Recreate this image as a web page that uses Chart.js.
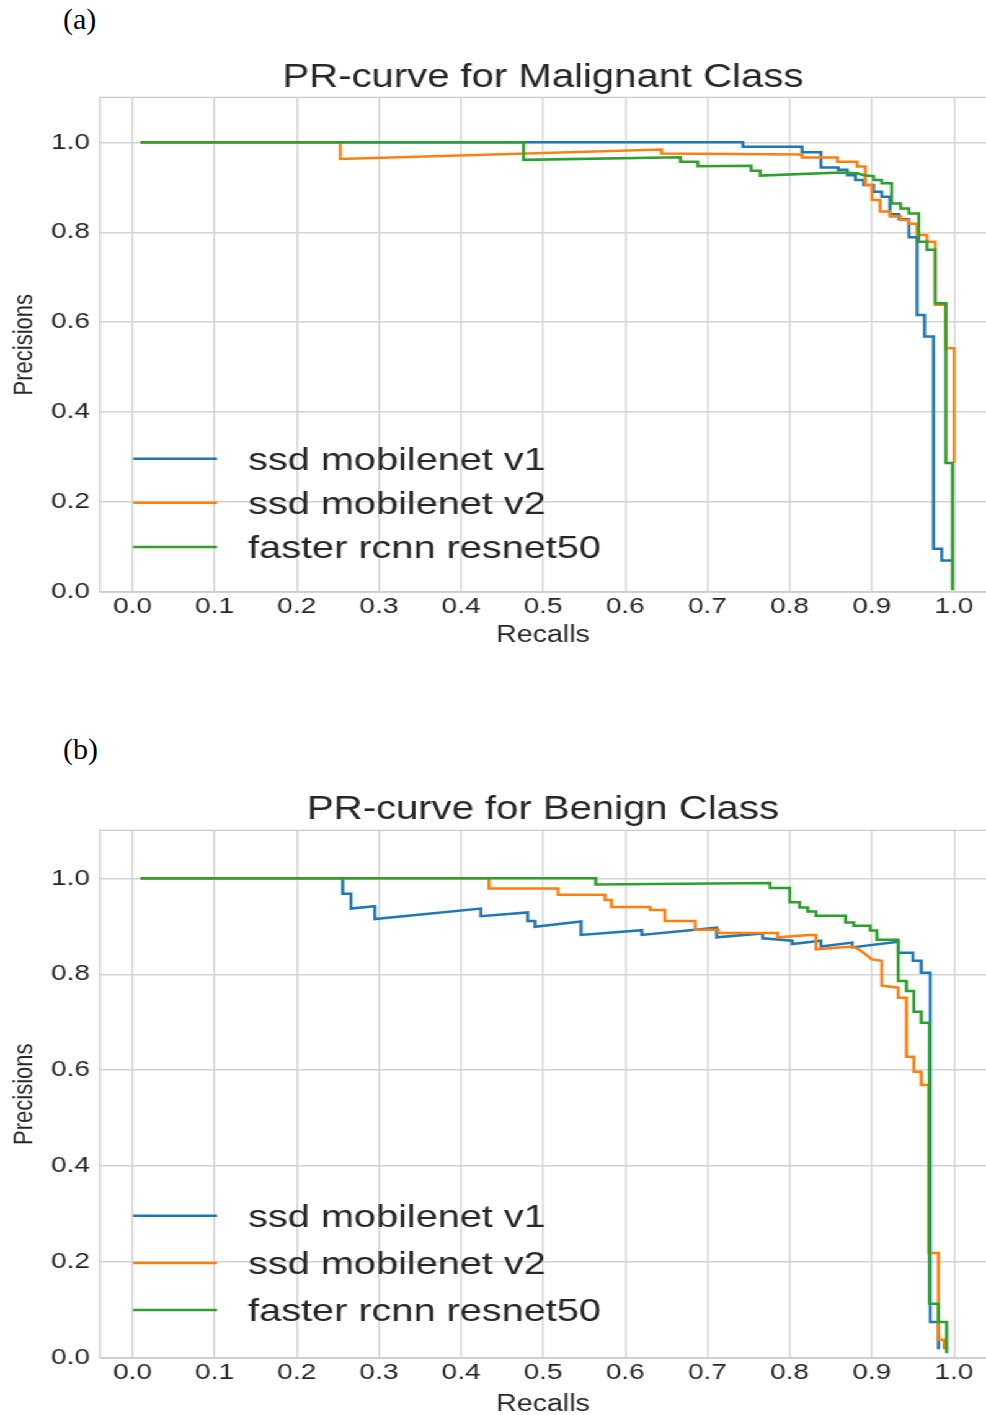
<!DOCTYPE html>
<html>
<head>
<meta charset="utf-8">
<script src="https://cdn.jsdelivr.net/npm/chart.js@4.4.0/dist/chart.umd.min.js"></script>
<style>
  html, body { margin: 0; padding: 0; background: #fff; }
  body { width: 986px; height: 1415px; position: relative; overflow: hidden; }
  .panel-label { position: absolute; left: 63px; font: 30px "Liberation Serif", "Times New Roman", serif; line-height: 30px; color: #000; }
  /* the source figure is stretched sideways, so the charts are drawn narrow and widened */
  #stretch { position: absolute; left: 0; top: 0; width: 795px; transform: scaleX(1.2403); transform-origin: 0 0; }
  #stretch canvas { display: block; }
</style>
</head>
<body>
<div class="panel-label" style="top:4px">(a)</div>
<div class="panel-label" style="top:734px">(b)</div>
<div id="stretch">
  <canvas id="malignantChart" width="795" height="700"></canvas>
  <canvas id="benignChart" width="795" height="715"></canvas>
</div>
<script>
const seriesNames = ["ssd mobilenet v1", "ssd mobilenet v2", "faster rcnn resnet50"];
const seriesColors = ["#1f77b4", "#ff7f0e", "#2ca02c"];
const recallTicks = [0.0, 0.1, 0.2, 0.3, 0.4, 0.5, 0.6, 0.7, 0.8, 0.9, 1.0];
const precisionTicks = [0.0, 0.2, 0.4, 0.6, 0.8, 1.0];

// (a) Malignant class
const malV1Recall = [0.01, 0.743, 0.743, 0.815, 0.815, 0.838, 0.838, 0.859, 0.859, 0.870, 0.870, 0.880, 0.880, 0.890, 0.890, 0.902, 0.902, 0.912, 0.912, 0.922, 0.922, 0.933, 0.933, 0.945, 0.945, 0.955, 0.955, 0.964, 0.964, 0.975, 0.975, 0.985, 0.985, 0.998];
const malV1Precision = [1.0, 1.0, 0.990, 0.990, 0.978, 0.978, 0.944, 0.944, 0.939, 0.939, 0.927, 0.927, 0.916, 0.916, 0.905, 0.905, 0.890, 0.890, 0.879, 0.879, 0.840, 0.840, 0.829, 0.829, 0.789, 0.789, 0.616, 0.616, 0.568, 0.568, 0.096, 0.096, 0.070, 0.070];
const malV2Recall = [0.01, 0.253, 0.253, 0.644, 0.644, 0.815, 0.815, 0.858, 0.858, 0.882, 0.882, 0.892, 0.892, 0.900, 0.900, 0.910, 0.910, 0.922, 0.922, 0.935, 0.935, 0.945, 0.945, 0.955, 0.955, 0.967, 0.967, 0.977, 0.977, 0.990, 0.990, 1.0, 1.0];
const malV2Precision = [1.0, 1.0, 0.963, 0.984, 0.975, 0.973, 0.966, 0.966, 0.957, 0.957, 0.946, 0.946, 0.905, 0.905, 0.872, 0.872, 0.846, 0.846, 0.835, 0.835, 0.827, 0.827, 0.819, 0.819, 0.794, 0.794, 0.779, 0.779, 0.639, 0.639, 0.542, 0.542, 0.287];
const malRcnnRecall = [0.01, 0.476, 0.476, 0.667, 0.667, 0.688, 0.688, 0.753, 0.753, 0.764, 0.764, 0.862, 0.882, 0.890, 0.902, 0.902, 0.912, 0.912, 0.924, 0.924, 0.935, 0.935, 0.945, 0.945, 0.957, 0.957, 0.967, 0.967, 0.977, 0.977, 0.990, 0.990, 0.998, 0.998];
const malRcnnPrecision = [1.0, 1.0, 0.961, 0.967, 0.957, 0.957, 0.947, 0.948, 0.937, 0.937, 0.926, 0.933, 0.931, 0.927, 0.925, 0.916, 0.916, 0.909, 0.909, 0.864, 0.864, 0.853, 0.853, 0.842, 0.842, 0.779, 0.779, 0.761, 0.761, 0.642, 0.642, 0.287, 0.287, 0.004];

// (b) Benign class
const benV1Recall = [0.01, 0.256, 0.256, 0.266, 0.266, 0.295, 0.295, 0.424, 0.424, 0.481, 0.481, 0.490, 0.490, 0.546, 0.546, 0.620, 0.620, 0.711, 0.711, 0.767, 0.767, 0.803, 0.803, 0.838, 0.838, 0.876, 0.876, 0.932, 0.932, 0.950, 0.950, 0.960, 0.960, 0.971, 0.971, 0.981, 0.981];
const benV1Precision = [1.0, 1.0, 0.968, 0.968, 0.937, 0.942, 0.915, 0.937, 0.921, 0.929, 0.911, 0.911, 0.899, 0.910, 0.882, 0.892, 0.882, 0.897, 0.877, 0.885, 0.875, 0.870, 0.863, 0.870, 0.858, 0.866, 0.856, 0.868, 0.845, 0.845, 0.828, 0.828, 0.803, 0.803, 0.075, 0.075, 0.018];
const benV2Recall = [0.01, 0.434, 0.434, 0.518, 0.518, 0.575, 0.575, 0.583, 0.583, 0.630, 0.630, 0.648, 0.648, 0.685, 0.685, 0.713, 0.713, 0.785, 0.785, 0.824, 0.832, 0.832, 0.876, 0.884, 0.892, 0.900, 0.912, 0.912, 0.932, 0.932, 0.942, 0.942, 0.951, 0.951, 0.960, 0.960, 0.969, 0.969, 0.981, 0.981, 0.988, 0.988];
const benV2Precision = [1.0, 1.0, 0.979, 0.979, 0.966, 0.966, 0.955, 0.955, 0.940, 0.940, 0.934, 0.934, 0.911, 0.911, 0.893, 0.893, 0.886, 0.886, 0.877, 0.882, 0.882, 0.852, 0.858, 0.852, 0.842, 0.831, 0.828, 0.776, 0.772, 0.751, 0.751, 0.628, 0.628, 0.597, 0.597, 0.569, 0.569, 0.219, 0.219, 0.038, 0.038, 0.018];
const benRcnnRecall = [0.01, 0.564, 0.564, 0.776, 0.776, 0.800, 0.800, 0.812, 0.812, 0.822, 0.822, 0.832, 0.832, 0.868, 0.868, 0.878, 0.878, 0.898, 0.898, 0.906, 0.906, 0.932, 0.932, 0.942, 0.942, 0.951, 0.951, 0.960, 0.960, 0.970, 0.970, 0.981, 0.981, 0.991, 0.991];
const benRcnnPrecision = [1.0, 1.0, 0.987, 0.990, 0.980, 0.980, 0.950, 0.950, 0.939, 0.939, 0.931, 0.931, 0.922, 0.922, 0.908, 0.908, 0.901, 0.901, 0.891, 0.891, 0.872, 0.872, 0.786, 0.786, 0.765, 0.765, 0.722, 0.722, 0.699, 0.699, 0.113, 0.113, 0.075, 0.075, 0.010];

const textColor = "#262626";
const gridColor = "#d4d4d4";
const fontFamily = '"Liberation Sans", Arial, sans-serif';

// light grey frame round the plot area (no right edge, it falls outside the picture)
const axesFrame = {
    id: "axesFrame",
    beforeDatasetsDraw(chart) {
        const { ctx, chartArea: a } = chart;
        ctx.save();
        ctx.strokeStyle = "#cccccc";
        ctx.lineWidth = 1.4;
        ctx.beginPath();
        ctx.moveTo(a.right, a.top);
        ctx.lineTo(a.left, a.top);
        ctx.lineTo(a.left, a.bottom);
        ctx.lineTo(a.right, a.bottom);
        ctx.stroke();
        ctx.restore();
    },
};

// legend drawn inside the plot, lower left, without a box
const insideLegend = {
    id: "insideLegend",
    afterDatasetsDraw(chart, args, opts) {
        const { ctx, chartArea } = chart;
        const h = chartArea.bottom - chartArea.top;
        const n = chart.data.datasets.length;
        ctx.save();
        ctx.font = opts.fontSize + "px " + fontFamily;
        ctx.textBaseline = "middle";
        ctx.textAlign = "left";
        chart.data.datasets.forEach((ds, i) => {
            const y = chartArea.bottom - h * (opts.bottomFrac + (n - 1 - i) * opts.rowFrac);
            const x0 = chartArea.left + opts.lineStart;
            ctx.strokeStyle = ds.borderColor;
            ctx.lineWidth = ds.borderWidth;
            ctx.beginPath();
            ctx.moveTo(x0, y);
            ctx.lineTo(x0 + opts.lineLength, y);
            ctx.stroke();
            ctx.fillStyle = textColor;
            ctx.fillText(ds.label, chartArea.left + opts.textStart, y + 2);
        });
        ctx.restore();
    },
};

const makePrChart = (canvasId, titleText, recalls, precisions, layout) => {
    const datasets = seriesNames.map((name, i) => ({
        label: name,
        data: recalls[i].map((r, j) => ({ x: r, y: precisions[i][j] })),
        borderColor: seriesColors[i],
        backgroundColor: seriesColors[i],
        borderWidth: 2.5,
        showLine: true,
        pointRadius: 0,
        tension: 0,
        fill: false,
        clip: 4,
        order: seriesNames.length - i, // later series on top, like matplotlib
    }));

    return new Chart(document.getElementById(canvasId), {
        type: "scatter",
        data: { datasets },
        options: {
            responsive: false,
            animation: false,
            devicePixelRatio: 1,
            layout: { padding: { left: 0, right: 0, top: 0, bottom: layout.padBottom } },
            plugins: {
                legend: { display: false },
                tooltip: { enabled: false },
                title: {
                    display: true,
                    text: titleText,
                    fullSize: false,
                    color: textColor,
                    font: { family: fontFamily, size: 32.3, weight: "normal", lineHeight: 1.2 },
                    padding: { top: layout.titleTop, bottom: layout.titleBottom },
                },
                insideLegend: {
                    fontSize: 32,
                    bottomFrac: 0.0909,
                    rowFrac: 0.0893,
                    lineStart: 26.7,
                    lineLength: 67.7,
                    textStart: 119.4,
                },
            },
            scales: {
                x: {
                    type: "linear",
                    min: -0.0395,
                    max: 1.0389,
                    afterBuildTicks: (scale) => { scale.ticks = recallTicks.map((v) => ({ value: v })); },
                    afterFit: (scale) => { scale.height = layout.xAxisHeight; },
                    grid: { color: gridColor, lineWidth: 1.4, drawTicks: false },
                    border: { display: false },
                    ticks: {
                        padding: 1,
                        color: textColor,
                        autoSkip: false,
                        maxRotation: 0,
                        font: { family: fontFamily, size: 22.5, lineHeight: 1.2 },
                        callback: (v) => Number(v).toFixed(1),
                    },
                    title: {
                        display: true,
                        text: "Recalls",
                        color: textColor,
                        font: { family: fontFamily, size: 23, lineHeight: 1.2 },
                        padding: { top: 0, bottom: -3 },
                    },
                },
                y: {
                    type: "linear",
                    min: 0,
                    max: 1.1,
                    afterBuildTicks: (scale) => { scale.ticks = precisionTicks.map((v) => ({ value: v })); },
                    afterFit: (scale) => { scale.width = 80.6; },
                    grid: { color: gridColor, lineWidth: 1.4, drawTicks: false },
                    border: { display: false },
                    ticks: {
                        padding: 8,
                        color: textColor,
                        font: { family: fontFamily, size: 22.5, lineHeight: 1.2 },
                        callback: (v) => Number(v).toFixed(1),
                    },
                    title: {
                        display: true,
                        text: "Precisions",
                        color: textColor,
                        font: { family: fontFamily, size: 22, lineHeight: 1.2 },
                        padding: { top: 6.8, bottom: 0 },
                    },
                },
            },
        },
        plugins: [axesFrame, insideLegend],
    });
};

makePrChart(
    "malignantChart",
    "PR-curve for Malignant Class",
    [malV1Recall, malV2Recall, malRcnnRecall],
    [malV1Precision, malV2Precision, malRcnnPrecision],
    { titleTop: 58.6, titleBottom: 0, xAxisHeight: 54.5, padBottom: 53.5 }
);

makePrChart(
    "benignChart",
    "PR-curve for Benign Class",
    [benV1Recall, benV2Recall, benRcnnRecall],
    [benV1Precision, benV2Precision, benRcnnPrecision],
    { titleTop: 90.6, titleBottom: 1.0, xAxisHeight: 57, padBottom: 0 }
);
</script>
</body>
</html>
